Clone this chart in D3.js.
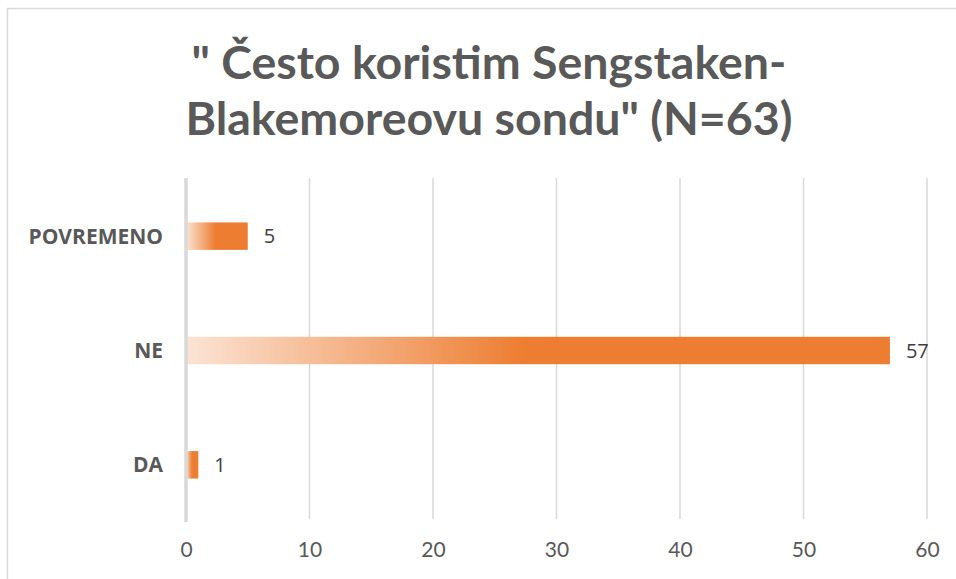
<!DOCTYPE html>
<html>
<head>
<meta charset="utf-8">
<script src="https://cdn.jsdelivr.net/npm/d3@7"></script>
<style>
  body { margin: 0; background: #fff; }
  svg { display: block; }
</style>
</head>
<body>
<div id="chart"></div>
<script>
// data
const categories = ["POVREMENO", "NE", "DA"];
const counts = [5, 57, 1];
const xTicks = [0, 10, 20, 30, 40, 50, 60];
const titleLines = ["\" Često koristim Sengstaken-", "Blakemoreovu sondu\" (N=63)"];

(function () {
    var width = 956, height = 579;
    var margin = { top: 179, right: 29, bottom: 57, left: 186 };

    var svg = d3.select("#chart")
        .append("svg")
        .attr("width", width)
        .attr("height", height);

    // chart frame (right / bottom edges are cut off in the original)
    svg.append("rect")
        .attr("x", 7.5)
        .attr("y", 8.5)
        .attr("width", 960)
        .attr("height", 600)
        .attr("fill", "none")
        .attr("stroke", "#d9d9d9")
        .attr("stroke-width", 1.5);

    var defs = svg.append("defs");
    var grad = defs.append("linearGradient")
        .attr("id", "barFill")
        .attr("x1", "0%").attr("x2", "100%")
        .attr("y1", "0%").attr("y2", "0%");
    grad.append("stop").attr("offset", "0%").attr("stop-color", "#fbe4d5");
    grad.append("stop").attr("offset", "48%").attr("stop-color", "#ed7d31");
    grad.append("stop").attr("offset", "100%").attr("stop-color", "#ed7d31");

    var xScale = d3.scaleLinear()
        .domain([0, 60])
        .range([margin.left, width - margin.right]);

    var yScale = d3.scaleBand()
        .domain(categories)
        .range([margin.top, height - margin.bottom])
        .paddingInner(0.76)
        .paddingOuter(0.38);

    // title
    svg.append("g")
        .selectAll("text")
        .data(titleLines)
        .enter()
        .append("text")
        .attr("x", 489)
        .attr("y", (d, i) => 79 + i * 56)
        .attr("text-anchor", "middle")
        .style("font-family", "Lato, 'Open Sans', sans-serif")
        .style("font-weight", "bold")
        .style("font-size", "46.5px")
        .attr("fill", "#595959")
        .text(d => d);

    // gridlines
    var gridBottom = 519;
    svg.append("g")
        .selectAll("line")
        .data(xTicks.filter(d => d > 0))
        .enter()
        .append("line")
        .attr("x1", d => xScale(d))
        .attr("x2", d => xScale(d))
        .attr("y1", 178)
        .attr("y2", gridBottom)
        .attr("stroke", "#d9d9d9")
        .attr("stroke-width", 1.5);

    // x axis labels via d3 axis
    var xAxis = d3.axisBottom()
        .scale(xScale)
        .tickValues(xTicks)
        .tickSize(0)
        .tickPadding(0);

    var xAxisEl = svg.append("g")
        .attr("class", "axis")
        .attr("transform", `translate(0, 538)`)
        .call(xAxis);
    xAxisEl.select(".domain").remove();
    xAxisEl.selectAll("text")
        .attr("dy", "0.9em")
        .style("font-family", "Lato, sans-serif")
        .style("font-size", "21px")
        .attr("fill", "#595959");

    // bars
    var bars = svg.append("g")
        .selectAll("rect")
        .data(categories)
        .enter()
        .append("rect")
        .attr("x", xScale(0))
        .attr("y", d => yScale(d))
        .attr("width", (d, i) => xScale(counts[i]) - xScale(0))
        .attr("height", yScale.bandwidth())
        .attr("fill", "url(#barFill)");

    // zero axis line
    svg.append("line")
        .attr("x1", xScale(0))
        .attr("x2", xScale(0))
        .attr("y1", 178)
        .attr("y2", 522)
        .attr("stroke", "#d9d9d9")
        .attr("stroke-width", 3.5);

    // category labels
    svg.append("g")
        .selectAll("text")
        .data(categories)
        .enter()
        .append("text")
        .attr("x", 163)
        .attr("y", d => yScale(d) + yScale.bandwidth() / 2)
        .attr("dy", "0.35em")
        .attr("text-anchor", "end")
        .style("font-family", "'Open Sans', sans-serif")
        .style("font-weight", "bold")
        .style("font-size", "21px")
        .attr("fill", "#595959")
        .text(d => d);

    // value labels
    svg.append("g")
        .selectAll("text")
        .data(categories)
        .enter()
        .append("text")
        .attr("x", (d, i) => xScale(counts[i]) + 16)
        .attr("y", d => yScale(d) + yScale.bandwidth() / 2)
        .attr("dy", "0.36em")
        .style("font-family", "'Open Sans', sans-serif")
        .style("font-size", "20px")
        .attr("fill", "#404040")
        .text((d, i) => counts[i]);
})();
</script>
</body>
</html>
